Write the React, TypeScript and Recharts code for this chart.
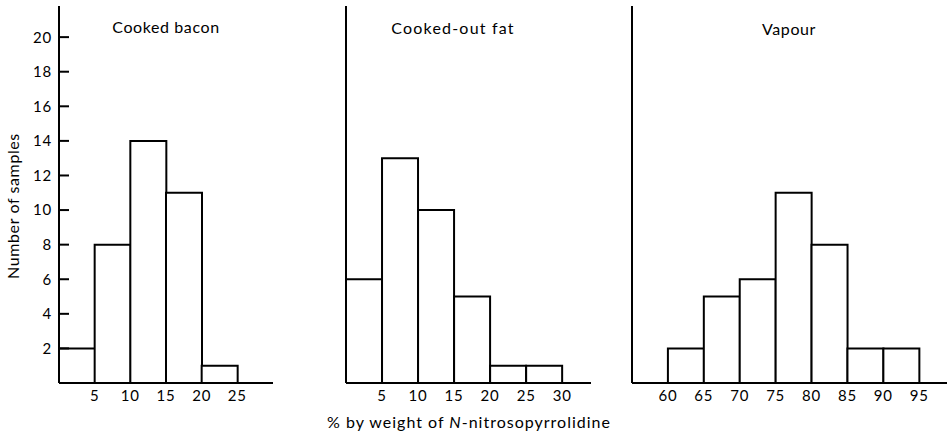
import React from 'react';
import { BarChart, Bar, XAxis, YAxis } from 'recharts';

// Class width (% by weight) shared by every histogram
const BIN_WIDTH = 5;

// Cooked bacon
const baconBinStarts = [0, 5, 10, 15, 20];
const baconCounts = [2, 8, 14, 11, 1];
const baconTicks = [5, 10, 15, 20, 25];

// Cooked-out fat
const fatBinStarts = [0, 5, 10, 15, 20, 25];
const fatCounts = [6, 13, 10, 5, 1, 1];
const fatTicks = [5, 10, 15, 20, 25, 30];

// Vapour
const vapourBinStarts = [60, 65, 70, 75, 80, 85, 90];
const vapourCounts = [2, 5, 6, 11, 8, 2, 2];
const vapourTicks = [60, 65, 70, 75, 80, 85, 90, 95];

// Number of samples
const countTicks = [2, 4, 6, 8, 10, 12, 14, 16, 18, 20];

const panelTitles = ['Cooked bacon', 'Cooked-out fat', 'Vapour'];
const yAxisTitle = 'Number of samples';

const W = 947;
const H = 437;
const Y_MAX = 21.8;
const FONT = 'Lato, "Noto Sans", sans-serif';
const INK = '#000';

type Row = { mid: number; count: number };

const toRows = (starts: number[], counts: number[]): Row[] =>
  starts.map((s, i) => ({ mid: s + BIN_WIDTH / 2, count: counts[i] }));

const baconData = toRows(baconBinStarts, baconCounts);
const fatData = toRows(fatBinStarts, fatCounts);
const vapourData = toRows(vapourBinStarts, vapourCounts);

// Count label on the left, short tick pointing into the plot
const CountTick = (props: any) => {
  const { x, y, payload } = props;
  return (
    <g>
      <line x1={x + 7} y1={y} x2={x + 17} y2={y} stroke={INK} strokeWidth={2} />
      <text x={x} y={y} dy="0.36em" textAnchor="end" fontSize={15} fill={INK} letterSpacing={0.8}>
        {payload.value}
      </text>
    </g>
  );
};

type PanelProps = {
  data: Row[];
  domain: [number, number];
  ticks: number[];
  showCounts: boolean;
  left: number;
  axisOffset: number;
  plotWidth: number;
};

function Panel({ data, domain, ticks, showCounts, left, axisOffset, plotWidth }: PanelProps) {
  return (
    <div style={{ position: 'absolute', left, top: 0 }}>
      <BarChart
        width={axisOffset + plotWidth}
        height={H}
        data={data}
        margin={{ top: 6, right: 0, bottom: 0, left: 0 }}
        barCategoryGap={0}
        barGap={0}
      >
        <XAxis
          type="number"
          dataKey="mid"
          domain={domain}
          ticks={ticks}
          interval={0}
          allowDataOverflow
          height={54}
          tickLine={false}
          tickSize={0}
          tickMargin={7}
          axisLine={{ stroke: INK, strokeWidth: 2 }}
          tick={{ fill: INK, fontSize: 15, letterSpacing: 0.8 }}
        />
        <YAxis
          type="number"
          domain={[0, Y_MAX]}
          ticks={countTicks}
          interval={0}
          allowDataOverflow
          width={axisOffset}
          tickLine={false}
          tickSize={0}
          tickMargin={7}
          axisLine={{ stroke: INK, strokeWidth: 2 }}
          tick={showCounts ? <CountTick /> : false}
        />
        <Bar dataKey="count" fill="#fff" stroke={INK} strokeWidth={2} isAnimationActive={false} />
      </BarChart>
    </div>
  );
}

export default function App() {
  return (
    <div
      style={{
        position: 'fixed',
        left: 0,
        top: 0,
        width: W,
        height: H,
        overflow: 'hidden',
        background: '#fff',
        fontFamily: FONT,
        color: INK,
      }}
    >
      <Panel data={baconData} domain={[0, 30]} ticks={baconTicks} showCounts left={0} axisOffset={59} plotWidth={214} />
      <Panel data={fatData} domain={[0, 34]} ticks={fatTicks} showCounts={false} left={335.7} axisOffset={10} plotWidth={245} />
      <Panel data={vapourData} domain={[55, 99]} ticks={vapourTicks} showCounts={false} left={621.7} axisOffset={10} plotWidth={316} />

      <svg width={W} height={H} style={{ position: 'absolute', left: 0, top: 0, pointerEvents: 'none' }}>
        <g fontSize={16} fill={INK} textAnchor="middle" letterSpacing={0.6}>
          <text x={166} y={33}>{panelTitles[0]}</text>
          <text x={453} y={34} letterSpacing={1.2}>{panelTitles[1]}</text>
          <text x={789} y={35}>{panelTitles[2]}</text>
          <text x={469} y={428} letterSpacing={1}>
            % by weight of <tspan fontStyle="italic">N</tspan>-nitrosopyrrolidine
          </text>
          <text x={13} y={206} dy="0.35em" transform="rotate(-90, 13, 206)">
            {yAxisTitle}
          </text>
        </g>
      </svg>
    </div>
  );
}
